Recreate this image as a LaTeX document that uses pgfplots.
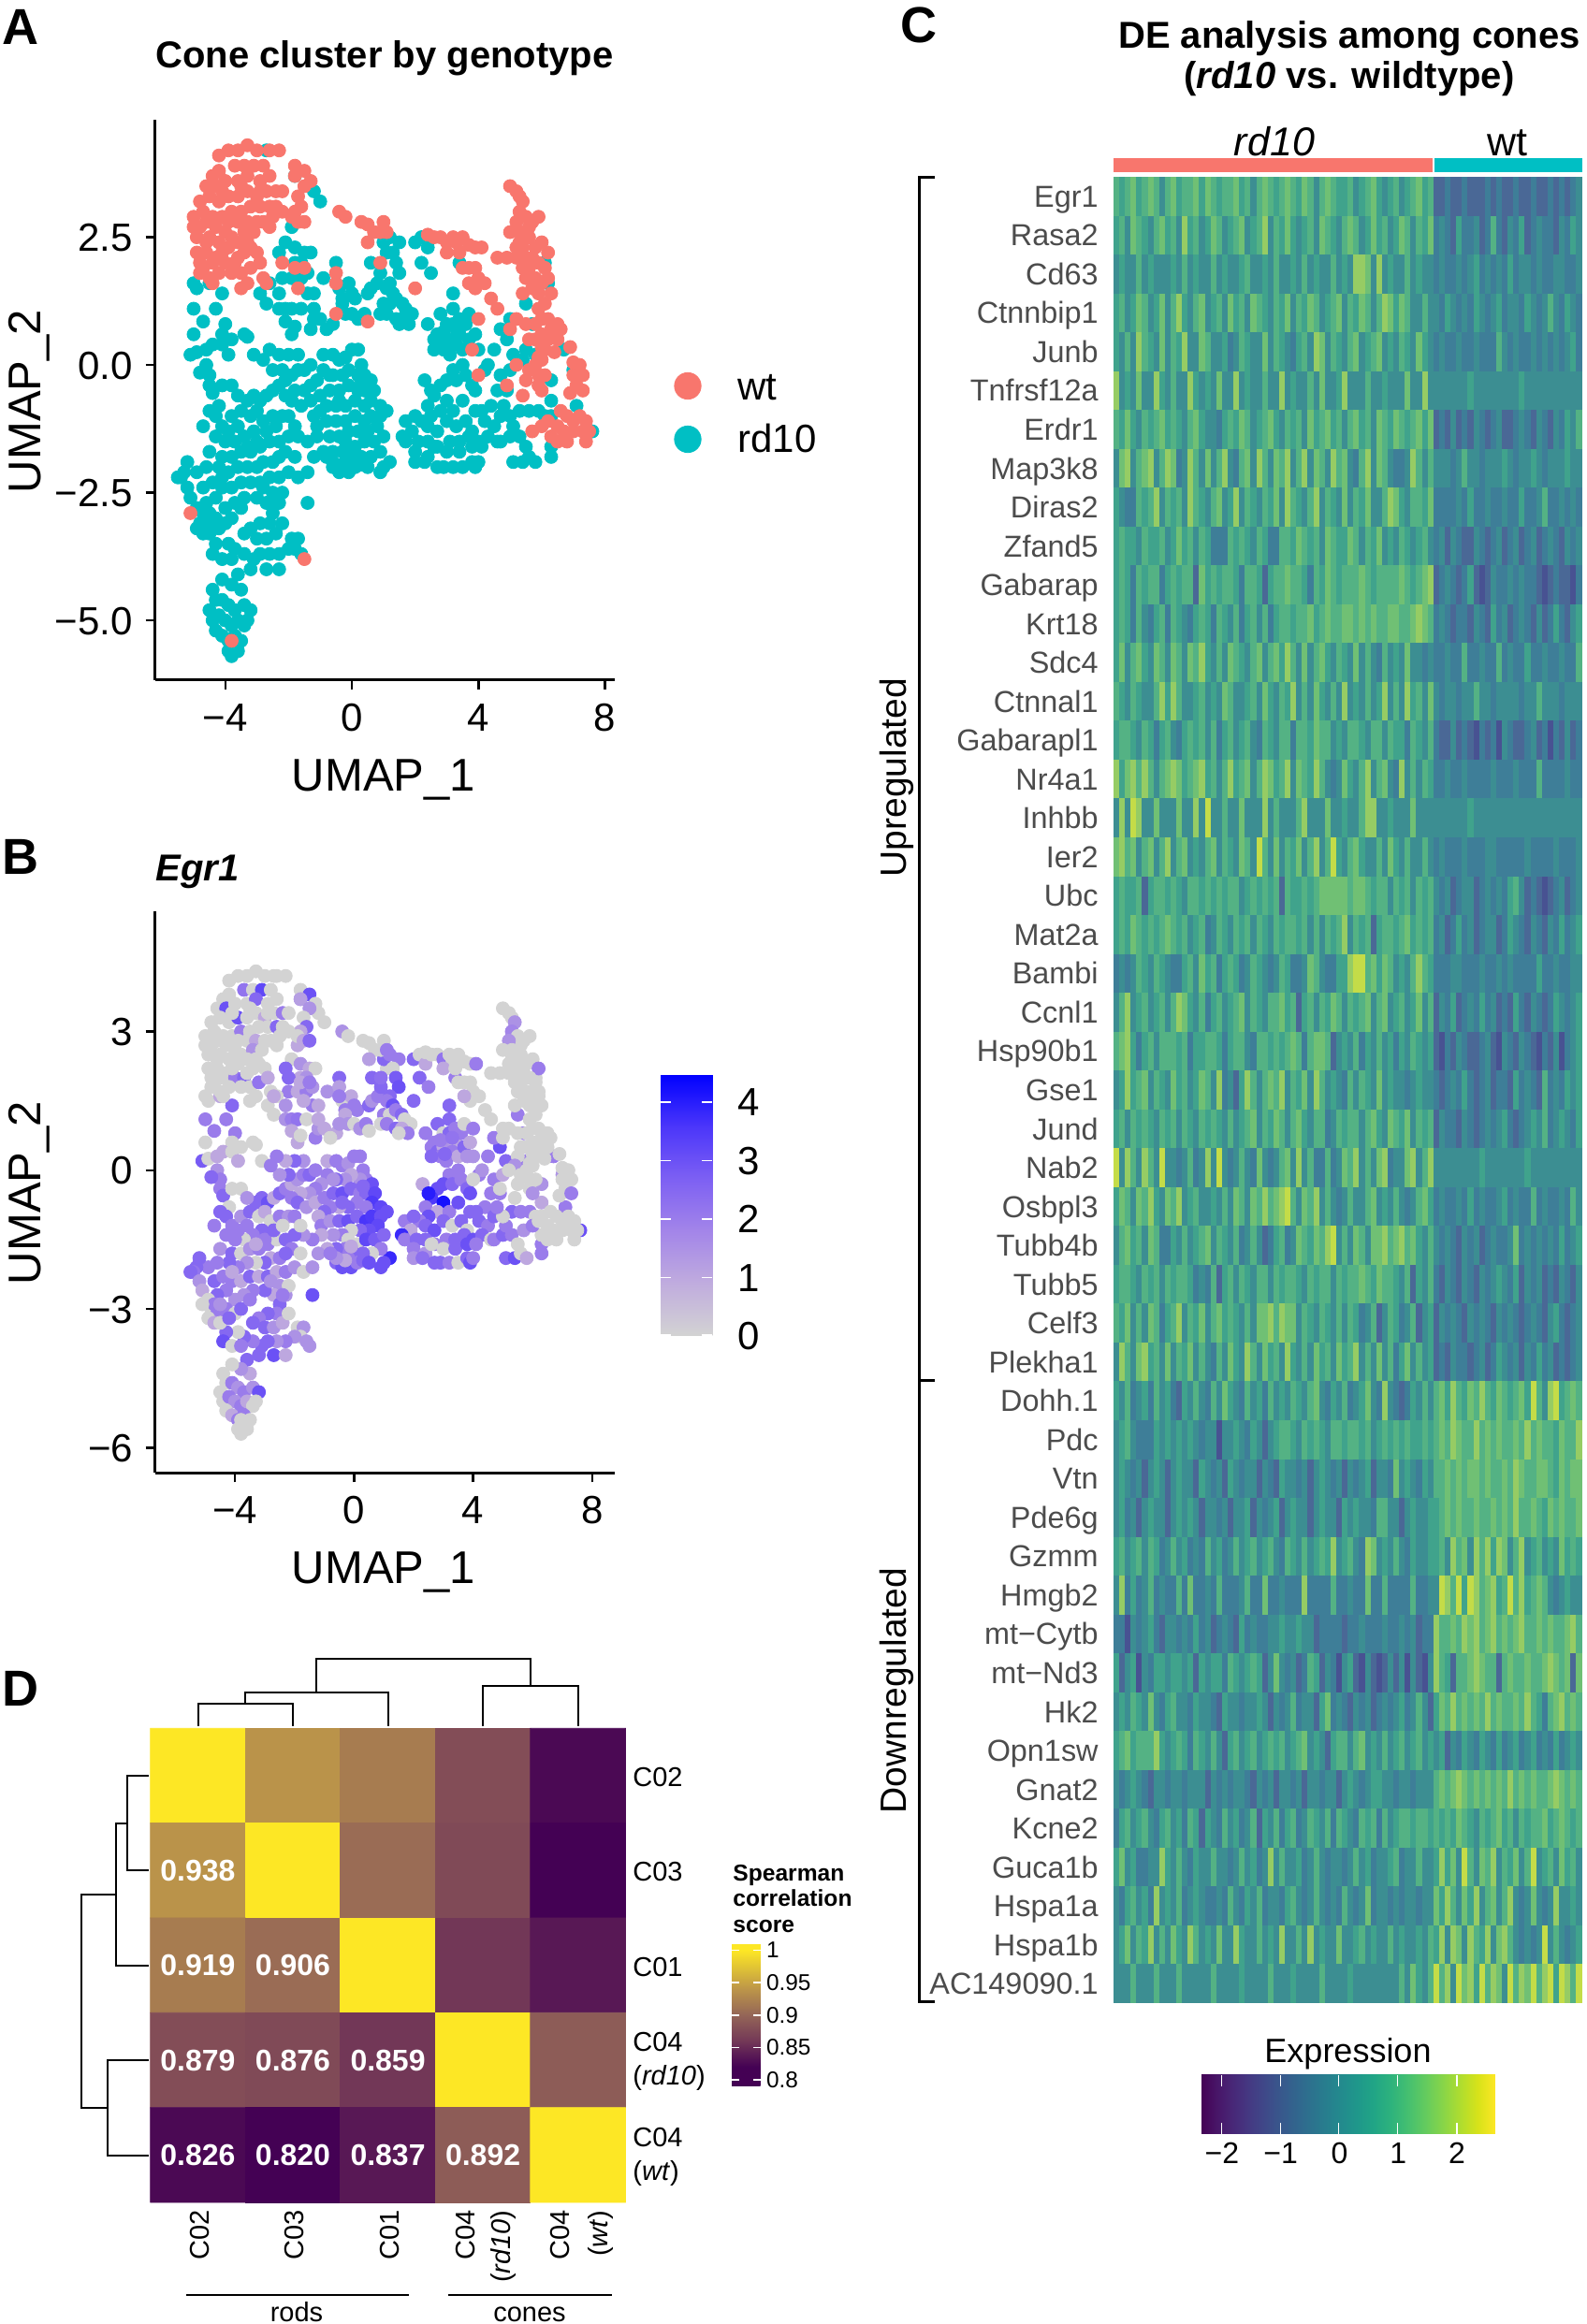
\documentclass[border=0pt]{standalone}
\usepackage{fontspec}
\setmainfont{Liberation Sans}
\usepackage{pgfplots}
\usepackage{pgfplotstable}
\pgfplotsset{compat=1.18}
\newcommand\fs[1]{\fontsize{#1}{#1}\selectfont}
\definecolor{wtc}{HTML}{F8766D}
\definecolor{rdc}{HTML}{00BFC4}
\pgfplotsset{
  colormap={egr}{rgb255(0pt)=(211,211,211); rgb255(1pt)=(192,172,222); rgb255(2pt)=(163,133,233); rgb255(3pt)=(125,96,243); rgb255(4pt)=(75,54,250); rgb255(5pt)=(0,0,255)},
  colormap={corr}{rgb255(0pt)=(68,1,84); rgb255(3pt)=(68,1,84); rgb255(7pt)=(115,56,87); rgb255(11pt)=(148,101,87); rgb255(15pt)=(188,149,73); rgb255(21pt)=(253,231,37); rgb255(22pt)=(253,231,37)},
  colormap={cells}{rgb255(0pt)=(72,82,146); rgb255(1pt)=(74,104,150); rgb255(2pt)=(62,126,152); rgb255(3pt)=(60,142,146); rgb255(4pt)=(64,163,140); rgb255(5pt)=(84,178,132); rgb255(6pt)=(112,192,116); rgb255(7pt)=(150,204,100); rgb255(8pt)=(196,220,72)},
  umap/.style={scale only axis,anchor=south west,axis x line=bottom,axis y line=left,axis line style={-,line width=1.5pt},
    tick style={black,line width=1.25pt},major tick length=5pt,tick align=outside,
    ticklabel style={font=\fs{21},inner sep=0pt},
    xticklabel style={yshift=-7pt,text height=15pt,text depth=0pt},
    yticklabel style={xshift=-6.7pt,text height=15pt,text depth=0pt},clip=false},
  dots/.style={only marks,mark=*,mark size=3.5pt},
  keybar/.style={scale only axis,anchor=south west,hide axis,xmin=0,xmax=1,ymin=0,ymax=1},
  keystyle/.style={at={(parent axis.south west)},anchor=south west,scale only axis,axis line style={draw=none},tick style={draw=none},major tick length=0pt},
}
\pgfdeclareplotmark{cell}{\pgfpathrectangle{\pgfpoint{-1.58pt}{-10.4pt}}{\pgfpoint{3.16pt}{20.8pt}}\pgfusepathqfill}
% UMAP position and Egr1 expression per cell
\pgfplotstableread{
x y e
-4.2 4.1 0
-3.9 4.2 0
-3.6 4.2 0
-3.3 4.3 0
-3 4.2 0
-2.6 4.2 0
-2.3 4.2 0
-3.7 3.9 2.2
-4.2 3.8 0
-4.4 3.7 0
-3.4 3.9 0
-3.1 3.9 3.2
-2.8 3.9 0
-4.6 3.5 0
-4.3 3.5 3
-4 3.6 0
-3.6 3.6 0
-3.3 3.7 2.5
-2.9 3.6 0
-2.6 3.7 0
-4.8 3.2 0
-4.5 3.3 0
-4.2 3.2 0
-3.9 3.3 3
-3.6 3.3 0
-3.3 3.4 0
-3 3.3 1
-2.7 3.4 0
-2.4 3.4 2
-2.2 3.4 0
-5 2.9 0
-4.7 3 0
-4.4 2.9 0
-4.1 2.9 0
-3.8 3 2
-3.5 3 0
-3.2 3.1 0
-2.9 3.1 0
-2.6 3.1 2.5
-2.4 3.1 0
-5 2.7 0
-4.8 2.7 0
-4.6 2.8 0
-4.3 2.7 0
-4 2.6 0
-3.6 2.8 0
-3.3 2.8 1
-3 2.8 0
-2.8 2.8 0
-2.6 2.7 0
-4.9 2.5 0
-4.5 2.5 0
-4.2 2.4 0
-3.8 2.5 0
-3.4 2.6 1.5
-3.1 2.6 0
-4.9 2.2 0
-4.6 2.2 0
-4.3 2.1 0
-3.9 2.3 0
-3.6 2.4 0
-3.2 2.3 0
-4.8 2 0
-4.4 2 0
-4 2 2
-3.7 2 2.5
-3.4 2.2 0
-3 2.2 0
-4.8 1.8 0
-4.5 1.7 0
-4.2 1.8 0
-3.8 1.8 0
-3.5 1.8 0
-3.2 1.9 2.2
-2.9 2 1
-4.4 1.6 0
-3.5 1.5 0
-3.3 1.6 0
-2.8 1.7 0
-2.7 1.6 1
-1.8 3.9 0
-1.7 3.8 0
-1.5 3.8 3
-1.8 3.7 1.2
-1.3 3.6 0
-1.5 3.5 1.5
-1.7 3.3 0
-1.6 3.1 2.5
-1.8 3 1
-1.9 2.9 0
-1.7 2.8 1
-1.5 2.8 2.5
-2.2 2 2.5
-1.8 1.9 1
-1.5 1.9 2
-1.7 1.5 1
-0.4 3 1.5
-0.2 2.9 0
-0.5 1.8 1.2
-0.5 1.6 2
-0.5 1 1.5
0.5 .85 0
0.9 2 2.3
0.3 2.8 0
0.5 2.75 0
0.7 2.6 0
1 2.8 0
0.9 2.6 0
1.1 2.6 2
0.5 2.4 1.2
2.4 2.55 0
2.6 2.5 0
2.8 2.5 0
3 2.4 2.2
3.2 2.5 0
3.3 2.4 0
3.5 2.5 0
3.7 2.35 0
3 2.2 1
3.4 2.2 0
3.9 2.3 0
4.1 2.3 2
3.5 1.9 0
3.7 1.9 0
3.9 1.9 0
4 1.7 0
3.9 1.5 0
4.2 1.6 0
3.7 1.6 1
4.4 1.3 0
4.6 1.1 0
2 1.5 2.5
4 .9 2
3.8 .3 1.5
4 -.2 0
5 3.5 0
5.2 3.4 0
5.3 3.3 0
5.4 3.2 1.5
5.3 3 1.8
5.5 2.9 0
5.6 2.7 0
5.2 2.8 1.5
5 2.6 0
5.3 2.6 0
5.6 2.5 0
5.9 2.9 0
5.7 2.8 0
6 2.4 0
5.8 2.3 0
6.2 2.2 2
5.5 2.1 0
5.2 2.1 0
4.9 2.1 0
4.6 2.1 0
5.6 1.9 0
5.8 1.7 0
6 1.6 0
6.2 1.7 0
6.3 1.4 0
6.1 1.2 0
5.9 1.1 0
6.2 .9 0
5.4 1.4 0
5.2 .9 0
5 .7 0
5.5 .8 0
6.5 .8 0
6.6 .7 0
6 .6 0
5.8 .5 0
5.6 .5 0
6.2 .5 0
6.5 .5 0
6.9 .35 0
6.1 .3 0
7 .05 0
7.2 0 0
7.3 -.2 0
7 -.2 0
7.1 -.4 0
5.8 0 0
6 .1 0
5.6 -.1 0
5.9 -.2 0
6.1 -.2 0
4.9 -.4 0
5.2 0 0
5.5 -.3 0
5.9 -.4 0
5.4 -.6 0
6 -.5 1.5
6.9 -.55 0
7.3 -.5 2
6.6 -.9 0
6.8 -1 0
7 -1.1 0
7.2 -1 0
7.4 -1.1 0
6.5 -1.2 0
6.7 -1.3 0
7 -1.3 0
7.3 -1.3 0
7.5 -1.3 0
6.3 -1.4 0
6.5 -1.5 0
6.8 -1.5 0
7.4 -1.5 0
5.7 -1.3 1.5
6 -1.2 2
6.2 -1.1 0
-5.1 -2.9 0
-1.5 -3.8 1.5
-3.8 -5.4 0
5.5 2.5 0
5.4 2.3 0
5.7 2.1 0
5.9 2 0
5.5 1.7 0
5.7 1.5 0
5.9 1.4 0
5.3 2.4 0
5.4 1.9 0
5.2 2.3 0
6.1 1.9 0
6 .9 0
5.8 .8 0
6.3 .7 0
6 .35 0
6.4 .25 0
5.9 .15 0
-4.1 3.4 0
-3.5 3.5 0
-2.9 3.4 0
-3.9 2.8 0
-3.3 2.4 0
-3.6 2.1 0
-4.1 2.2 0
-4.6 2.4 0
-4.7 1.9 0
-2.5 2.9 0
-2.2 3 0
}\wtpts
\pgfplotstableread{
x y e
-2.7 4.2 0
-1.8 3.7 2
-1.2 3.4 0
-1 3.2 0
-1.9 2.7 1
-2.1 2.4 0
-1.8 2.3 1.5
-1.5 2.2 1
-1.3 2.2 0
-2.3 2.2 2.5
-1.8 2 1
-1.6 2 1.5
-2.2 1.7 2
-1.9 1.7 1
-1.6 1.7 2
-1.4 1.8 1.5
-2.6 1.6 0
-2.3 1.4 1.5
-2.9 1.4 0
-2.7 1.2 0
-2.3 1.1 1.5
-2.1 1.1 2
-1.9 1.1 2.2
-1.6 1.1 0
-2.1 .85 1
-1.9 .6 1
-1.8 .75 0
-1.3 .7 2
-1.2 .9 1.5
-1 .9 1
-1.2 1.1 1
-1.4 1.4 2
-1.2 1.4 1
-.9 1.7 1.5
-.5 2 2.5
-.4 1.5 0
-.3 1.3 2
-.1 1.6 1
0 1.4 2
.1 1.3 2
-.3 1.2 1
-.2 1 1.5
0 1 0
.2 .9 1.5
.4 1 2
-.6 .8 1
-.8 .7 0
.5 1.4 2.5
.6 1.5 1.5
.8 1.6 2
.9 1.8 2.5
.6 2 2.5
1.1 2.2 0
1 2.4 2.5
1.2 2.5 2
1.5 2.4 2
1.3 2.2 0
1.4 2 2.8
1.5 1.8 3
1.2 1.6 2.5
1.1 1.5 2
1.3 1.4 3
1 1.2 2
1.2 1.2 0
1.4 1.3 2
1.6 1.2 2.5
1.7 1.1 0
.9 1 0
1.1 1 2
1.4 .9 2.5
1.9 1 0
1.6 .9 1
1.8 .8 2
1.5 .8 0
2 2.4 2.5
2.2 2.5 0
2.4 2.3 1
2.2 2 2.5
2.5 1.8 2
2.8 1 2.5
3.2 1.1 2.5
2.4 .8 2
2.7 .6 2
3 .8 0
3.2 .8 2.5
3.4 .9 2
2.6 .5 2
2.8 .4 2.5
3 .5 1
3.2 .5 1.5
3.4 .6 1
3.6 .8 2
3.7 1 0
2.9 .3 2
3.1 .2 2
3.3 .4 2
3.5 .3 1
2.6 .3 2.5
3.7 .5 2.5
3.9 .6 1
3.4 2 2
3.2 1.4 2.5
3.5 0 2
3.2 -.1 2
3 -.3 3
2.8 -.4 3
2.6 -.6 3.5
2.4 -.8 2
3.3 -.3 2.5
3.6 -.2 2
4 .3 1.5
4.2 -.1 2
4.5 .3 2
4.3 0 1.5
2.3 -.3 1
3.8 -.4 2.5
3.9 -.5 3
4.6 -.5 2
4.4 -.8 2
4.1 -.9 2.5
2.5 -.5 4
3 -.7 4.2
2.8 -.9 1
2.5 -1 3
3.2 -.9 2
3.5 -.7 3
3.9 -.9 2.5
2.2 -1.1 2
2.4 -1.2 2.5
2.7 -1.3 3
3 -1.1 2.5
3.3 -1.2 0
3.6 -1.1 2.5
3.8 -1.3 0
4.2 -1.1 2.5
4.5 -1.2 2
4.7 -1 2.5
1.7 -1.1 2
1.9 -1.3 1
2 -1 2.5
1.6 -1.4 3.8
1.7 -1.5 2
2.1 -1.5 2.5
2.4 -1.5 2.5
2.7 -1.6 2
3.1 -1.5 2
3.4 -1.5 2.5
3.7 -1.4 2.5
4 -1.5 3
4.3 -1.4 2.5
2 -1.7 2
2.4 -1.8 1.5
2.6 -1.6 0
3 -1.7 0
3.4 -1.7 2.5
3.8 -1.6 3
4.1 -1.6 2
4.6 -1.5 0
2 -1.9 1.5
2.3 -1.9 2.3
2.7 -2 2.5
2.9 -2 2.5
3.2 -2 2
3.5 -2 0
3.8 -1.9 2.5
3.9 -2 3
4 -1.9 2
4.7 -1.5 2
5 -1.4 2.5
5.3 -1.4 2
5.5 -1.6 0
5.1 -1.2 2
5.3 -.9 2.5
5.6 -.9 2
5.9 -.9 2
6.1 -1 0
5 -1 0
4.8 -.8 2
4.9 -.5 2
4.7 -.2 2
5 -.1 1
5.1 .2 2.5
4.9 .5 3
4.7 .7 2
5 .9 0
5.5 1.2 2
5.7 .8 2
5.8 .2 2
5.5 .3 0
5.4 .1 1.5
6.3 -.3 1.5
6.3 -.7 1
6.3 -1 0
6.3 -1.6 2
6.3 -1.8 2
5.1 -1.9 2.5
5.4 -1.9 3
5.6 -1.8 0
5.8 -1.9 1
6.1 2 0
6.2 1.6 0
6.7 .3 2
7 -.1 1.5
7.1 -.8 2
7.4 -1.3 2
7.6 -1.3 3
-5 1.6 0
-4.9 1.5 0
-4.5 1.6 1
-4.1 1.4 2.5
-5 1.1 2
-4.3 1.1 2
-4.7 .85 2
-5 .6 0
-4 .8 2
-4.1 .6 0
-3.8 .5 0
-4.4 .4 1
-3.4 .6 0
-3.3 .55 0
-5.1 .2 2.8
-4.9 .25 0
-4.6 .3 1
-4.1 .4 0
-3.9 .2 1
-3.1 .2 0
-4.6 0 1.5
-4.5 -.2 2
-4.8 -.15 2.5
-4.5 -.4 2
-4.4 -.55 2.5
-4.1 -.4 0
-3.8 -.4 0
-4.2 -.8 0
-3.3 -.7 2.5
-3.1 -.6 2.5
-2.9 -.7 3
-2.7 -.6 1
-2.5 -.5 2.5
-2.3 -.4 2
-2.1 -.3 1
-1.9 -.2 1.5
-2.2 -.1 2.5
-2.5 -.1 1.5
-1.7 -.1 2
-1.5 -.1 2.5
-1.3 0 2
-1.7 .2 1.5
-2 .2 2.5
-2.3 .2 1
-2.6 .3 2
-2.8 .1 2
-.9 .2 1
-.6 .2 2
-.4 .1 2
-.2 .15 1.5
0 .3 2
.2 .3 2
.3 0 2
.4 -.2 2
.2 -.2 1.5
-.1 -.1 1
-.3 -.2 1.5
-.6 -.2 2.5
-.9 -.1 2
-1.1 -.3 1.5
-1.3 -.4 2
-1.5 -.5 1.5
-1.8 -.5 1
-2.1 -.6 2
-1.9 -.7 2.5
-1.6 -.8 1.5
-1.3 -.7 1
-1 -.6 2
-.7 -.5 2.5
-.4 -.5 3
-.1 -.4 2.5
.2 -.5 2
.4 -.5 2.5
.6 -.3 3
.7 -.5 3.2
.6 -.7 3.5
.9 -.8 3.2
.4 -.8 2
.1 -.7 2
-.2 -.8 2.5
-.5 -.8 1
-.8 -.8 2
-1 -.9 2.5
-1.2 -1 1
-1.1 -1.2 2
-.8 -1.1 1.5
-.5 -1.1 2.5
-.2 -1.1 3
.1 -1 2.5
.4 -1.1 3.6
.6 -1 3.5
.9 -1 3
1.1 -.9 3
.8 -1.2 3.2
.5 -1.3 3
.2 -1.3 2.5
-.1 -1.3 0
-.4 -1.4 2
-.7 -1.4 1.5
-1.1 -1.4 1
-1.4 -1.5 2
-1.7 -1.4 1.5
-2 -1.4 2.5
-.2 -1.5 0
.1 -1.6 0
.4 -1.5 3.2
.7 -1.5 2.8
1 -1.4 2.5
1.2 -1.9 3.8
.9 -1.7 2
1 -2 3
.6 -1.8 0
.3 -1.8 2.5
0 -1.8 2.5
-.3 -1.7 2
-.6 -1.7 2.5
-.9 -1.7 1
-1.2 -1.8 1.5
-.6 -2 2.5
-.4 -2.1 3
-.1 -2.1 3
.1 -2 2
-.2 -1.9 2
-.3 -1.95 1
-.6 -1.9 1.5
.9 -2.1 3
-4.5 -.9 2.5
-4.7 -1.2 2
-4.3 -1 2.5
-4.1 -1.2 2
-3.8 -1 1.5
-3.6 -1.2 2
-3.5 -.9 2.5
-3.2 -1 0
-3 -.9 1
-2.8 -1.1 0
-2.5 -1 2
-2.2 -1 1.5
-2 -1 2
-1.8 -1.2 0
-3.1 -1.3 2.5
-3.4 -1.4 2
-3.7 -1.5 0
-4 -1.5 2
-4.3 -1.4 2
-4.5 -1.7 1.5
-4.1 -1.8 2.5
-3.8 -1.8 0
-3.5 -1.7 1.5
-3.2 -1.7 2
-2.9 -1.6 2
-2.6 -1.5 0
-2.3 -1.5 2.5
-2.1 -1.7 2
-1.8 -1.8 0
-2.8 -1.9 1
-2.5 -1.9 2
-2.3 -1.8 2.5
-3 -2 2.5
-3.3 -2 0
-3.6 -2 1.5
-3.9 -2.1 2
-4.2 -2 2.5
-4.6 -2 2
-4.9 -2.1 2
-5.2 -1.9 2.5
-5.3 -2.1 2.5
-5.4 -2.2 2.2
-5.5 -2.2 2.5
-5.2 -2.4 1.5
-5.1 -2.6 1
-4.7 -2.4 2.5
-4.4 -2.3 2
-4.1 -2.4 2
-3.8 -2.4 1
-3.5 -2.3 2.5
-3.2 -2.3 1
-2.9 -2.3 2.5
-2.6 -2.2 1
-2.3 -2.2 2
-2 -2.1 1.5
-1.7 -2.2 0
-1.4 -2.1 1.5
-2.5 -2.5 1.5
-2.7 -2.7 1
-3 -2.6 2.5
-3.4 -2.6 2
-3.7 -2.7 1.5
-4 -2.8 1.5
-4.3 -2.6 2
-4.6 -2.7 2.5
-4.9 -2.8 0
-4.8 -3.1 0
-4.6 -3.1 2
-4.3 -3 2
-4 -3.1 0
-3.8 -3 2.5
-3.5 -2.8 2
-2.5 -2.9 2.5
-2.3 -2.7 1.5
-2.2 -2.5 0
-1.4 -2.7 3
-2.6 -3.1 2
-2.9 -3.1 2.5
-3.2 -3.2 2
-3.4 -3.3 2.5
-3 -3.4 2.5
-2.7 -3.4 1.5
-2.4 -3.3 1
-2.2 -3.1 0
-1.9 -3.4 0
-1.7 -3.4 1.5
-1.8 -3.6 0
-1.6 -3.7 1.5
-2 -3.6 1.5
-2.3 -3.7 2
-2.6 -3.7 1.5
-2.9 -3.7 2.5
-3.1 -3.8 2.5
-3.4 -3.7 2
-3.7 -3.6 2.5
-3.9 -3.5 0
-4.3 -3.5 2.5
-4.4 -3.7 3
-4.1 -3.8 0
-3.8 -3.8 2
-3.6 -4.1 2.5
-3.2 -4 2.5
-3.5 -4.4 1
-3.8 -4.3 1.5
-4.1 -4.2 0
-4.4 -4.4 0
-2.7 -4 3
-2.3 -4 1
-4.5 -4.8 0
-4.3 -4.6 0
-4.1 -4.6 2
-3.9 -4.7 1.5
-3.7 -4.8 2
-3.4 -4.7 1.5
-3.2 -4.8 3
-4.4 -5 0
-4.2 -4.9 2
-4 -5 1.5
-3.8 -5.1 2
-3.6 -5 1
-3.4 -5.1 0
-3.3 -5 0
-4.3 -5.2 0
-4.1 -5.3 1
-3.9 -5.4 2
-3.7 -5.3 2
-3.5 -5.4 0
-3.6 -5.6 0
-3.8 -5.7 0
-3.9 -5.6 0
-4.7 -2.9 2
-4.5 -2.9 1.5
-4.4 -3.2 2
-4.9 -3.2 0
-4.7 -3.3 1
-4.5 -3.3 0
-4.2 -3.2 2.5
-4.1 -2.2 1
-3 -1.5 2
-3.3 -1.6 1
-2.7 -1.3 2.5
-2.4 -1.2 0
-3.6 -.6 1.5
-3.9 -1.3 2
-.7 -.2 1.5
-.4 -.7 2.5
.3 -.35 2.5
-.8 -1.8 2
-.1 -1.65 1
.3 -1.95 2.5
.5 -2 3
2.9 .65 2
3.05 .35 2.5
3.3 .7 2.2
-2.4 -2.7 2
-2.8 -2.4 1.5
}\rdpts
% heatmap: 47 genes by 82 cell groups (56 rd10, 26 wt), colour step 0-8
\pgfplotstableread[header=false]{
5 4 5 6 4 5 6 5 3 5  6 4 5 5 6 4 6 5 4 5  5 6 4 5 3 5 6 5 4 5  6 5 4 6 5 3 5 6 5 4  4 5 3 4 5 6 4 3 4 5  3 4 5 6 4 5  1 1 2 1 1 2 1 1 1 2  1 2 1 1 2 1 1 2 1 1  2 1 2 1 2 3
4 5 3 6 5 4 3 5 6 4  5 3 7 4 5 3 4 6 5 3  4 5 6 3 4 5 7 3 5 4  6 4 3 4 5 3 6 5 4 3  5 6 5 3 4 6 4 5 3 4  6 5 3 5 4 6  2 3 2 1 4 2 2 3 1 2  5 2 1 3 2 4 1 2 3 2  2 1 3 2 4 3
3 4 3 3 5 3 4 3 3 3  4 3 5 3 4 3 3 5 3 4  3 3 4 5 3 3 4 3 5 3  3 4 3 5 3 4 3 3 5 3  4 3 7 7 6 3 7 3 4 3  3 5 3 4 3 3  2 3 2 2 3 2 3 4 2 3  2 3 2 4 2 3 3 2 3 2  2 3 3 2 2 3
4 5 3 4 6 5 3 4 6 3  5 7 4 3 5 6 3 4 5 3  6 4 5 3 6 5 4 3 5 4  6 3 5 4 6 5 3 4 5 6  3 5 4 6 5 3 5 7 6 4  6 5 3 3 5 3  3 2 4 3 2 3 2 4 3 2  3 4 2 3 3 2 4 3 2 3  5 3 2 4 3 2
4 3 5 3 7 5 4 3 6 3  5 4 7 3 3 6 5 3 3 4  2 3 5 4 3 3 6 3 5 4  3 2 4 5 3 7 6 3 5 4  3 5 6 3 4 5 6 3 4 3  5 4 3 6 4 3  2 3 2 2 3 2 2 3 2 2  2 5 3 2 3 2 2 3 2 3  2 3 2 3 4 2
7 3 4 3 6 3 3 7 4 3  5 3 3 7 4 3 4 3 6 3  3 7 3 4 3 3 5 3 3 7  3 4 3 3 5 3 6 3 3 4  7 3 3 3 5 3 3 4 3 3  3 6 3 3 7 3  3 3 3 3 3 3 4 3 3 3  3 3 3 3 3 4 3 3 3 3  3 3 3 3 3 3
5 4 6 4 3 5 4 5 6 4  5 4 3 5 6 4 3 3 2 4  5 4 6 5 3 4 5 6 4 3  5 4 5 3 6 4 5 6 4 5  3 5 6 4 5 3 6 5 4 6  5 4 5 6 4 6  1 2 1 3 1 2 1 3 2 1  2 3 1 1 2 3 2 1 3 2  1 3 2 4 3 5
3 6 7 3 5 6 7 3 5 7  6 2 3 7 5 3 6 3 5 7  3 2 5 6 3 7 5 3 6 5  7 3 5 7 3 6 5 3 7 5  6 3 2 5 7 3 6 5 3 2  2 3 7 5 3 5  3 3 3 2 3 5 3 3 2 3  3 3 4 3 2 3 3 4 3 2  3 3 3 4 3 3
4 3 2 2 5 4 5 7 3 5  4 5 3 7 5 4 3 5 6 3  4 7 3 5 4 3 5 4 6 3  7 5 4 3 5 7 3 5 4 3  6 3 5 4 6 3 3 5 7 6  4 3 5 5 4 6  2 2 2 2 3 2 4 2 2 3  2 2 3 2 2 4 2 2 3 5  2 2 3 2 3 2
4 5 4 4 3 5 4 4 5 3  4 6 4 5 3 5 4 2 2 2  5 4 5 4 3 5 4 2 2 5  5 4 6 5 4 5 3 6 5 4  4 6 5 3 5 4 6 3 4 3  5 4 3 4 5 3  2 3 1 3 2 1 1 3 2 1  2 3 1 2 3 1 2 3 1 2  3 2 1 3 2 3
4 5 4 2 5 4 5 5 2 4  5 4 5 5 1 6 4 5 4 5  5 4 2 5 5 4 1 4 5 5  6 5 5 4 2 5 4 6 5 4  5 5 5 6 5 4 5 5 5 5  6 5 4 5 6 7  1 2 3 2 1 2 4 1 0 1  3 2 2 3 2 3 2 2 1 0  1 2 1 1 0 2
4 5 4 2 5 3 2 4 5 2  5 4 3 2 4 5 4 2 5 4  3 5 2 4 5 3 5 2 4 5  5 4 5 5 6 4 5 6 5 5  6 6 5 6 5 6 5 5 6 6  5 5 6 7 6 5  2 3 2 1 2 2 1 3 2 1  4 2 3 1 2 3 2 1 3 1  2 4 2 1 3 4
4 6 3 5 6 4 3 6 5 3  6 5 3 6 5 7 4 3 5 3  6 5 4 3 5 6 3 5 6 4  7 5 3 6 3 5 6 4 3 5  4 3 6 3 5 3 2 5 3 4  3 6 3 3 2 3  2 2 3 2 2 5 2 2 3 2  2 5 2 3 2 2 4 2 2 3  2 2 3 2 2 5
5 4 3 5 4 3 3 5 7 4  7 5 3 3 4 5 3 4 3 6  5 3 3 4 5 3 6 4 3 5  4 7 3 5 3 6 4 3 5 3  7 3 4 3 5 3 4 7 3 5  3 7 4 5 3 6  3 2 3 3 2 3 3 5 3 3  2 3 3 3 3 2 3 3 5 3  3 3 2 3 3 3
4 5 5 4 3 5 4 2 4 5  3 2 4 5 4 5 3 5 2 4  5 3 4 5 3 2 5 4 3 5  5 2 5 5 4 6 5 5 3 4  3 5 5 4 3 5 5 3 5 4  4 2 5 4 3 5  2 1 1 3 1 2 1 0 2 1  2 0 3 2 1 1 2 3 1 2  0 2 1 3 1 2
7 4 6 7 5 7 5 3 5 6  7 6 4 5 6 7 4 5 3 5  7 4 5 6 3 5 7 6 4 5  7 3 6 5 4 7 5 3 2 3  6 4 3 5 7 3 5 6 3 2  7 3 5 3 5 4  2 2 3 2 2 3 2 2 2 2  3 2 2 2 3 2 2 2 5 2  2 2 2 3 2 2
3 7 3 8 7 3 3 6 3 3  3 6 3 3 7 3 8 3 3 5  3 3 6 3 3 3 7 3 5 3  3 3 5 7 3 3 3 6 3 3  4 3 3 5 7 7 3 3 4 3  3 3 6 3 3 3  3 3 3 3 3 3 4 3 3 3  3 3 3 3 3 3 3 3 3 3  3 3 3 3 3 3
6 7 5 6 3 5 6 3 5 7  3 5 6 3 4 3 5 6 3 5  4 3 6 5 3 8 5 3 6 3  5 4 6 3 5 7 3 5 8 4  3 5 6 4 3 3 5 3 6 4  3 5 3 3 5 3  2 3 2 2 2 3 2 2 2 3  3 2 2 2 2 2 3 2 2 2  2 3 2 2 2 3
4 5 4 4 5 1 4 5 5 4  5 4 3 5 5 4 5 4 5 4  5 5 3 4 5 4 5 4 5 1  5 4 4 5 4 5 6 6 6 6  6 5 6 6 5 4 5 5 3 5  4 5 3 5 4 5  3 2 3 1 2 3 3 1 2 3  2 3 2 4 5 3 1 2 1 0  1 2 3 1 2 3
4 5 4 6 5 4 5 4 5 6  5 4 5 3 4 5 2 3 5 4  3 5 4 5 3 5 4 3 5 4  5 5 4 5 3 5 3 5 4 5  7 3 5 4 5 1 4 5 5 4  5 6 4 5 4 5  2 3 1 2 4 2 3 1 2 3  3 1 2 4 3 2 1 3 2 1  3 2 4 2 3 4
2 3 2 3 5 4 3 5 4 3  2 2 4 5 3 6 4 5 2 4  5 4 2 3 5 4 3 2 3 5  4 2 2 3 6 5 3 2 2 4  4 7 8 8 5 6 4 6 5 3  4 3 5 7 5 4  2 2 2 3 3 2 2 2 3 2  2 3 2 3 2 2 2 2 4 2  2 3 2 2 3 3
3 5 7 3 4 5 3 4 5 3  5 7 6 4 3 5 2 4 5 3  4 5 6 3 5 4 3 5 5 6  4 5 1 4 5 3 5 4 6 5  3 5 4 5 6 3 5 6 3 4  5 3 4 6 3 5  1 3 2 4 1 2 3 2 4 2  3 1 2 1 4 2 1 3 2 1  2 4 3 2 3 4
5 6 7 4 2 4 5 3 5 5  5 4 5 2 4 4 5 5 4 2  4 5 5 3 2 5 5 4 5 4  5 6 5 2 5 6 6 5 1 3  4 3 5 2 4 3 5 3 4 2  4 3 5 4 3 4  1 0 2 1 3 2 1 1 2 3  1 0 3 2 1 3 2 1 0 2  1 3 0 2 3 4
3 4 7 4 5 6 3 5 4 3  6 4 5 3 4 6 5 3 7 2  3 1 4 7 5 3 5 6 5 7  3 5 4 6 3 7 5 3 4 3  2 5 3 5 4 3 6 3 4 3  3 2 3 4 3 3  2 1 2 3 2 4 2 1 2 3  1 2 2 1 4 2 3 2 1 5  2 3 2 4 3 4
4 5 3 5 4 5 4 3 5 4  5 3 5 4 3 5 4 5 4 3  5 3 4 5 6 3 5 4 6 5  3 5 6 4 3 5 5 2 3 5  4 5 5 3 5 6 4 3 6 5  4 6 3 5 4 5  1 3 2 2 1 3 2 1 2 3  2 3 4 2 1 2 3 4 3 5  2 3 4 3 2 4
8 3 7 5 3 7 5 3 8 3  3 2 3 5 2 3 7 3 8 3  2 3 5 3 2 6 3 2 3 5  6 3 7 3 5 2 2 5 2 3  6 5 7 3 5 3 6 7 2 3  3 6 7 3 5 7  3 3 3 3 3 3 3 3 4 3  3 3 3 3 3 3 4 3 3 3  3 3 3 3 3 3
4 6 5 3 6 5 7 4 3 6  5 7 3 4 5 3 3 4 3 5  3 6 5 3 6 5 7 5 6 7  8 5 3 6 5 7 3 5 3 2  3 5 3 3 5 6 3 4 3 5  3 2 3 5 6 4  2 3 2 2 3 2 4 2 3 2  2 3 4 2 3 2 2 5 2 3  2 2 3 2 5 3
3 5 6 4 5 3 6 5 2 2  4 3 5 3 4 5 6 3 5 4  3 5 2 3 5 3 1 2 4 5  2 3 6 5 4 6 5 7 8 3  5 3 6 5 3 6 6 7 5 6  7 5 6 4 3 5  3 2 3 2 1 3 2 3 1 2  3 2 2 3 6 2 3 2 3 2  3 2 4 2 3 4
4 5 5 4 3 5 4 5 3 5  4 5 5 4 2 3 2 5 1 4  5 3 5 4 3 5 5 3 5 4  5 5 4 3 5 4 5 5 3 5  4 5 5 6 5 4 6 5 5 4  3 5 1 4 3 5  2 1 3 2 1 3 2 1 3 2  3 4 3 2 4 1 3 2 3 1  2 1 3 2 1 3
5 4 6 3 5 3 6 5 2 4  5 7 3 5 4 6 3 5 6 4  5 4 3 5 3 6 6 7 5 7  6 6 3 5 4 3 5 4 3 5  3 5 4 2 3 5 1 3 5 4  2 3 5 1 3 4  1 3 2 3 2 1 3 2 3 2  1 3 2 3 2 1 2 3 2 1  3 4 2 1 2 3
3 7 5 3 6 7 4 5 3 6  3 5 4 6 3 5 3 2 5 3  6 4 3 7 5 3 6 4 5 3  7 4 3 5 3 6 4 5 3 6  4 5 7 3 5 3 6 3 5 2  4 6 3 5 3 4  1 2 1 3 2 2 1 2 3 1  2 4 3 2 3 1 3 2 4 2  3 1 2 1 2 3
4 3 5 2 3 4 2 5 3 4  2 1 4 3 5 3 2 5 3 6  4 3 2 5 3 4 2 5 3 4  3 5 4 3 5 6 3 2 4 3  5 2 3 4 6 3 2 7 3 2  1 2 4 3 5 3  5 6 4 7 5 4 6 5 7 5  4 6 5 4 5 6 4 8 5 3  7 8 4 5 6 5
3 4 5 3 2 2 2 4 3 4  3 4 3 4 3 2 3 3 0 3  3 4 3 2 4 3 1 3 4 5  5 4 3 5 4 5 4 3 5 5  4 5 5 4 5 3 4 5 4 5  4 5 4 4 5 4  5 6 5 7 6 5 5 7 5 6  5 6 5 5 6 5 7 5 6 5  5 4 6 5 5 7
3 4 3 2 3 1 3 4 3 1  3 4 3 3 1 4 3 2 3 1  4 3 2 3 3 1 3 2 1 4  3 3 2 3 1 3 4 3 2 3  1 3 2 3 4 1 3 3 2 6  3 4 3 2 4 3  5 5 6 5 6 5 6 6 5 6  5 5 6 5 7 6 5 5 6 6  5 4 6 5 6 6
3 4 2 3 1 3 4 3 3 1  3 4 3 4 3 1 3 3 2 3  1 3 3 4 1 3 2 3 4 1  3 4 3 3 1 3 4 3 3 1  4 3 4 3 3 2 5 5 3 3  1 3 4 3 3 4  4 5 6 5 6 5 5 6 5 5  6 5 6 5 7 5 5 6 5 4  6 5 6 5 5 6
4 5 3 4 5 3 5 4 2 3  5 3 4 2 3 2 5 3 4 2  3 5 3 4 5 3 4 5 3 2  5 4 3 5 3 4 5 4 7 3  4 5 3 2 7 6 3 4 3 5  3 2 4 3 3 4  4 5 3 7 5 6 3 7 5 7  4 7 6 3 5 7 3 4 5 3  4 3 6 4 5 4
3 7 2 4 2 3 5 2 3 2  2 5 2 6 2 2 3 2 5 2  2 2 3 5 2 2 6 2 2 3  2 2 2 7 2 2 2 2 5 2  2 3 2 2 6 2 2 5 2 2  2 2 5 2 2 3  3 8 7 5 8 4 8 7 5 6  7 4 5 8 5 7 4 5 6 5  3 2 3 4 3 3
2 2 0 3 2 3 4 2 1 3  3 2 3 2 4 2 3 1 2 3  2 1 4 2 3 2 2 3 3 4  3 3 4 3 3 1 2 2 2 2  1 2 2 3 2 2 2 3 2 2  3 2 3 1 2 2  7 5 5 6 5 7 6 7 5 6  7 5 6 5 6 7 5 5 6 5  6 5 5 6 7 5
4 1 3 4 0 3 2 4 4 3  4 4 3 4 1 4 3 4 4 2  5 4 3 4 5 4 1 3 6 3  2 3 1 2 5 4 1 3 2 0  3 4 1 0 3 1 0 1 3 1  3 0 3 1 0 3  7 5 4 1 5 5 6 7 6 5  5 1 5 6 5 5 6 5 5 6  7 6 5 6 1 6
3 4 3 5 4 3 6 3 2 4  5 3 3 2 4 3 3 2 1 4  3 3 2 3 3 4 3 1 3 2  3 5 2 3 3 1 4 6 2 3  2 1 3 2 3 1 2 3 2 3  4 2 3 5 3 1  4 6 5 7 5 6 5 6 5 7  5 6 5 5 6 5 7 5 4 2  5 6 7 5 6 5
4 5 6 4 5 5 5 7 4 3  4 5 4 2 5 4 3 5 3 1  4 5 3 4 5 3 4 5 4 5  3 4 5 6 3 4 3 1 4 5  5 3 5 6 3 4 3 5 3 4  5 3 4 5 3 4  3 4 1 3 2 4 3 2 4 3  2 4 2 3 4 2 3 4 2 3  2 4 2 3 4 3
3 2 3 4 3 2 1 3 3 2  3 3 2 3 3 3 1 3 2 3  2 3 3 2 1 3 2 3 1 3  3 2 3 1 3 3 2 3 3 1  3 4 3 2 3 4 4 3 3 2  3 3 2 3 3 3  5 6 5 6 7 6 5 6 5 6  5 6 5 7 5 6 5 6 5 5  6 7 6 5 6 5
2 4 5 3 4 5 3 2 4 5  3 4 2 5 4 1 4 3 2 5  3 4 2 3 5 1 4 3 5 2  4 5 2 3 5 4 3 5 2 5  4 3 2 5 4 5 2 5 3 4  5 5 4 5 5 4  5 4 5 4 6 5 4 3 5 4  5 6 4 5 3 5 4 5 5 6  4 5 6 5 4 5
4 6 3 4 2 2 3 3 7 4  3 5 3 2 4 3 3 5 3 3  2 3 5 3 4 2 3 7 3 5  3 3 4 2 3 5 3 2 3 3  2 3 5 3 4 2 3 3 4 5  2 3 3 5 3 3  4 7 4 6 3 8 5 3 6 5  7 3 5 4 6 3 5 8 3 4  5 3 6 4 5 3
3 2 4 5 3 4 2 7 3 4  3 5 2 3 4 3 2 2 3 2  5 3 2 4 3 5 2 3 3 2  4 5 3 2 3 5 3 2 3 2  5 3 2 3 6 2 3 3 2 3  2 3 3 2 3 3  6 4 7 5 3 6 4 7 3 5  6 3 5 7 3 2 3 6 3 2  3 7 3 3 4 3
3 4 6 3 5 4 7 3 5 3  6 4 3 7 5 3 4 3 6 3  3 7 4 3 3 5 3 4 3 7  3 3 5 3 7 3 4 3 3 6  3 3 4 5 3 4 3 3 5 3  4 3 3 4 3 5  4 7 3 7 6 3 7 5 4 7  3 6 7 5 3 2 3 2 3 8  3 5 3 2 3 4
3 3 3 5 3 3 3 5 3 3  3 5 3 3 3 3 3 5 3 3  3 3 4 3 3 3 3 5 3 3  3 4 3 3 3 3 5 3 3 3  3 4 3 3 3 3 3 3 3 3  5 3 6 4 3 5  8 5 7 3 8 6 7 4 8 5  7 6 3 8 5 7 6 8 5 7  8 4 8 7 5 8
}\heat
\pgfplotstableread{
x y c
0 0 1
1 0 .938
2 0 .919
3 0 .879
4 0 .826
0 1 .938
1 1 1
2 1 .906
3 1 .876
4 1 .820
0 2 .919
1 2 .906
2 2 1
3 2 .859
4 2 .837
0 3 .879
1 3 .876
2 3 .859
3 3 1
4 3 .892
0 4 .826
1 4 .820
2 4 .837
3 4 .892
4 4 1
}\corr
\pgfplotstableread{
x y c
0 1 0.938
0 2 0.919
1 2 0.906
0 3 0.879
1 3 0.876
2 3 0.859
0 4 0.826
1 4 0.820
2 4 0.837
3 4 0.892
}\corrtxt
\begin{document}
\begin{tikzpicture}
\useasboundingbox (0,0) rectangle (848pt,1242pt);
% A
\begin{axis}[umap,at={(82.85pt,878.5pt)},width=245.65pt,height=299.5pt,
  xmin=-6.22,xmax=8.31,ymin=-6.17,ymax=4.8,
  xtick={-4,0,4,8},xticklabels={−4,0,4,8},
  ytick={-5,-2.5,0,2.5},yticklabels={−5.0,−2.5,0.0,2.5}]
\addplot[dots,mark options={draw=rdc,fill=rdc}] table[x=x,y=y] {\rdpts};
\addplot[dots,mark options={draw=wtc,fill=wtc}] table[x=x,y=y] {\wtpts};
\end{axis}
% B
\begin{axis}[umap,at={(82.85pt,454.75pt)},width=245.65pt,height=300.25pt,
  xmin=-6.69,xmax=8.76,ymin=-6.55,ymax=5.6,
  xtick={-4,0,4,8},xticklabels={−4,0,4,8},
  ytick={-6,-3,0,3},yticklabels={−6,−3,0,3},
  colormap name=egr,point meta min=0,point meta max=4.48]
\addplot[scatter,dots,scatter/use mapped color={draw=mapped color,fill=mapped color},point meta=explicit] table[x=x,y=y,meta=e] {\rdpts};
\addplot[scatter,dots,scatter/use mapped color={draw=mapped color,fill=mapped color},point meta=explicit] table[x=x,y=y,meta=e] {\wtpts};
\end{axis}
\begin{axis}[keybar,at={(353pt,528.25pt)},width=27.7pt,height=139.75pt,
  colormap name=egr,point meta min=0,point meta max=4.48,colorbar,colorbar shift/.style={},colorbar/width=27.7pt,
  colorbar style={keystyle,height=139.75pt,ytick={0,1,2,3,4},yticklabels={0,1,2,3,4},yticklabel pos=right,
    yticklabel style={font=\fs{21},inner sep=0pt,xshift=13.5pt,text height=15pt,text depth=0pt}}]
\addplot[draw=none] coordinates {(0,0)};
\end{axis}
% C heatmap
\begin{axis}[scale only axis,at={(595pt,171.5pt)},anchor=south west,width=250.3pt,height=976pt,
  xmin=-.5,xmax=81.5,ymin=-.5,ymax=46.5,y dir=reverse,clip=false,
  axis line style={draw=none},tick style={draw=none},xtick=\empty,
  ytick={0,...,46},
  yticklabels={Egr1,Rasa2,Cd63,Ctnnbip1,Junb,Tnfrsf12a,Erdr1,Map3k8,Diras2,Zfand5,Gabarap,Krt18,Sdc4,Ctnnal1,Gabarapl1,Nr4a1,Inhbb,Ier2,Ubc,Mat2a,Bambi,Ccnl1,Hsp90b1,Gse1,Jund,Nab2,Osbpl3,Tubb4b,Tubb5,Celf3,Plekha1,Dohh.1,Pdc,Vtn,Pde6g,Gzmm,Hmgb2,mt−Cytb,mt−Nd3,Hk2,Opn1sw,Gnat2,Kcne2,Guca1b,Hspa1a,Hspa1b,AC149090.1},
  yticklabel style={font=\fs{16.2},text=black!70,inner sep=0pt,xshift=-8pt,text height=11.5pt,text depth=0pt},
  colormap name=cells,point meta min=0,point meta max=8]
\pgfplotsinvokeforeach{0,...,81}{
  \addplot[scatter,only marks,mark=cell,scatter/use mapped color={fill=mapped color},point meta=explicit]
    table[x expr=#1,y expr=\coordindex,meta index=#1] {\heat};
}
\end{axis}
\begin{axis}[keybar,at={(641.6pt,101.5pt)},width=157.3pt,height=31.5pt,
  colormap name=viridis,point meta min=-2.36,point meta max=2.65,colorbar horizontal,colorbar shift/.style={},colorbar/width=31.5pt,
  colorbar style={keystyle,width=157.3pt,xtick={-2,-1,0,1,2},xticklabels={−2,−1,0,1,2},xticklabel pos=bottom,
  xticklabel style={font=\fs{16},inner sep=0pt,yshift=-4.5pt}}]
\addplot[draw=none] coordinates {(0,0)};
\end{axis}
% D matrix
\begin{axis}[scale only axis,at={(80.35pt,65pt)},anchor=south west,width=253.85pt,height=253.35pt,
  xmin=-.5,xmax=4.5,ymin=-.5,ymax=4.5,y dir=reverse,hide axis,clip=false,
  colormap name=corr,point meta min=.79,point meta max=1.0101]
\addplot[matrix plot*,mesh/cols=5,point meta=explicit] table[x=x,y=y,meta=c] {\corr};
\addplot[draw=none,mark=none,point meta=explicit symbolic,nodes near coords,
  nodes near coords align={anchor=center},
  every node near coord/.append style={font=\fs{16}\bfseries,text=white,anchor=center,inner sep=0pt}] table[x=x,y=y,meta=c] {\corrtxt};
\end{axis}
\begin{axis}[keybar,at={(391pt,127pt)},width=15.3pt,height=76.2pt,
  colormap name=corr,point meta min=.79,point meta max=1.0101,colorbar,colorbar shift/.style={},colorbar/width=15.3pt,
  colorbar style={keystyle,height=76.2pt,ytick={.8,.85,.9,.95,1},yticklabels={0.8,0.85,0.9,0.95,1},yticklabel pos=right,
  yticklabel style={font=\fs{12.2},inner sep=0pt,xshift=3pt}}]
\addplot[draw=none] coordinates {(0,0)};
\end{axis}
% overlay in reference pixels: text, brackets, dendrograms, legend, key ticks
\begin{axis}[scale only axis,at={(0pt,0pt)},anchor=south west,width=848pt,height=1242pt,
  xmin=0,xmax=1696,ymin=0,ymax=2484,y dir=reverse,hide axis,clip=false,unbounded coords=jump]
\addplot[only marks,mark=*,mark size=7.1pt,mark options={draw=wtc,fill=wtc}] coordinates {(735,412.5)};
\addplot[only marks,mark=*,mark size=7.1pt,mark options={draw=rdc,fill=rdc}] coordinates {(735,469.5)};
% key ticks
\addplot[white,line width=.7pt] coordinates {(706,1178)(717,1178)(0,nan)(750,1178)(761.4,1178)(0,nan)(706,1240.4)(717,1240.4)(0,nan)(750,1240.4)(761.4,1240.4)(0,nan)(706,1303)(717,1303)(0,nan)(750,1303)(761.4,1303)(0,nan)(706,1365.5)(717,1365.5)(0,nan)(750,1365.5)(761.4,1365.5)(0,nan)(706,1427)(717,1427)(0,nan)(750,1427)(761.4,1427)};
\addplot[white,line width=.7pt] coordinates {(1305.7,2218)(1305.7,2230)(0,nan)(1305.7,2269)(1305.7,2281)(0,nan)(1368.2,2218)(1368.2,2230)(0,nan)(1368.2,2269)(1368.2,2281)(0,nan)(1430.7,2218)(1430.7,2230)(0,nan)(1430.7,2269)(1430.7,2281)(0,nan)(1493.7,2218)(1493.7,2230)(0,nan)(1493.7,2269)(1493.7,2281)(0,nan)(1556.8,2218)(1556.8,2230)(0,nan)(1556.8,2269)(1556.8,2281)};
\addplot[white,line width=.8pt] coordinates {(782,2084.6)(790,2084.6)(0,nan)(805,2084.6)(812.6,2084.6)(0,nan)(782,2119)(790,2119)(0,nan)(805,2119)(812.6,2119)(0,nan)(782,2153.8)(790,2153.8)(0,nan)(805,2153.8)(812.6,2153.8)(0,nan)(782,2188.4)(790,2188.4)(0,nan)(805,2188.4)(812.6,2188.4)(0,nan)(782,2223)(790,2223)(0,nan)(805,2223)(812.6,2223)};
% annotation bars
\addplot[wtc,line width=7.5pt] coordinates {(1190,176.5)(1531,176.5)};
\addplot[rdc,line width=7.5pt] coordinates {(1533,176.5)(1690.6,176.5)};
% brackets C
\addplot[black,line width=1.5pt] coordinates {(999,189)(982,189)(982,1475)(999,1475)};
\addplot[black,line width=1.5pt] coordinates {(999,1475)(982,1475)(982,2139)(999,2139)};
% dendrogram top
\addplot[black,line width=1pt] coordinates {(211.5,1845)(211.5,1821.4)(313,1821.4)(313,1845)};
\addplot[black,line width=1pt] coordinates {(262.2,1821.4)(262.2,1809.4)(414.5,1809.4)(414.5,1845)};
\addplot[black,line width=1pt] coordinates {(516,1845)(516,1801.5)(617.5,1801.5)(617.5,1845)};
\addplot[black,line width=1pt] coordinates {(338,1809.4)(338,1773)(567,1773)(567,1801.5)};
% dendrogram left
\addplot[black,line width=1pt] coordinates {(159,1898)(135.8,1898)(135.8,1999.4)(159,1999.4)};
\addplot[black,line width=1pt] coordinates {(135.8,1948.7)(124,1948.7)(124,2100.8)(159,2100.8)};
\addplot[black,line width=1pt] coordinates {(159,2202)(115,2202)(115,2303.6)(159,2303.6)};
\addplot[black,line width=1pt] coordinates {(124,2024.7)(87,2024.7)(87,2252.8)(115,2252.8)};
% rods/cones lines
\addplot[black,line width=1pt] coordinates {(199,2452.5)(436.5,2452.5)};
\addplot[black,line width=1pt] coordinates {(479,2452.5)(654,2452.5)};
\tikzset{every node/.append style={inner sep=0pt}}
\node[anchor=base west,font=\fs{27}\bfseries] at (axis cs:2,47) {A};
\node[anchor=base west,font=\fs{27}\bfseries] at (axis cs:2,934) {B};
\node[anchor=base,font=\fs{27}\bfseries] at (axis cs:982,46) {C};
\node[anchor=base west,font=\fs{27}\bfseries] at (axis cs:2,1823) {D};
\node[anchor=base west,font=\fs{20}\bfseries] at (axis cs:166,72) {Cone cluster by genotype};
\node[anchor=base west,font=\fs{20}\bfseries\itshape] at (axis cs:166,941) {Egr1};
\node[anchor=base,font=\fs{24.5}] at (axis cs:410,845) {UMAP\_1};
\node[anchor=base,font=\fs{24.5}] at (axis cs:410,1692) {UMAP\_1};
\node[anchor=base,rotate=90,font=\fs{24.5}] at (axis cs:43,429) {UMAP\_2};
\node[anchor=base,rotate=90,font=\fs{24.5}] at (axis cs:43,1275) {UMAP\_2};
\node[anchor=base west,font=\fs{21}] at (axis cs:788,427) {wt};
\node[anchor=base west,font=\fs{21}] at (axis cs:788,483) {rd10};
\node[anchor=base,font=\fs{20}\bfseries] at (axis cs:1442,51) {DE analysis among cones};
\node[anchor=base,font=\fs{20}\bfseries] at (axis cs:1442,94) {(\textit{rd10} vs. wildtype)};
\node[anchor=base,font=\fs{21.5}\itshape] at (axis cs:1362,166) {rd10};
\node[anchor=base,font=\fs{21.5}] at (axis cs:1611,166) {wt};
\node[anchor=base,rotate=90,font=\fs{19.5}] at (axis cs:968,831) {Upregulated};
\node[anchor=base,rotate=90,font=\fs{19.5}] at (axis cs:968,1807) {Downregulated};
\node[anchor=base,font=\fs{18}] at (axis cs:1440.5,2204) {Expression};
\node[anchor=base west,font=\fs{14.5}] at (axis cs:676,1909) {C02};
\node[anchor=base west,font=\fs{14.5}] at (axis cs:676,2010) {C03};
\node[anchor=base west,font=\fs{14.5}] at (axis cs:676,2112) {C01};
\node[anchor=base west,font=\fs{14.5}] at (axis cs:676,2192) {C04};
\node[anchor=base west,font=\fs{14.5}] at (axis cs:676,2228) {(\textit{rd10})};
\node[anchor=base west,font=\fs{14.5}] at (axis cs:676,2294) {C04};
\node[anchor=base west,font=\fs{14.5}] at (axis cs:676,2330) {(\textit{wt})};
\node[anchor=base east,rotate=90,font=\fs{14.5}] at (axis cs:223,2362) {C02};
\node[anchor=base east,rotate=90,font=\fs{14.5}] at (axis cs:324,2362) {C03};
\node[anchor=base east,rotate=90,font=\fs{14.5}] at (axis cs:426,2362) {C01};
\node[anchor=base east,rotate=90,font=\fs{14.5}] at (axis cs:507,2362) {C04};
\node[anchor=base east,rotate=90,font=\fs{14.5}] at (axis cs:545,2362) {(\textit{rd10})};
\node[anchor=base east,rotate=90,font=\fs{14.5}] at (axis cs:608,2362) {C04};
\node[anchor=base east,rotate=90,font=\fs{14.5}] at (axis cs:649,2362) {(\textit{wt})};
\node[anchor=base,font=\fs{14.5}] at (axis cs:317,2481) {rods};
\node[anchor=base,font=\fs{14.5}] at (axis cs:566,2481) {cones};
\node[anchor=base west,font=\fs{12.3}\bfseries] at (axis cs:783,2010) {Spearman};
\node[anchor=base west,font=\fs{12.3}\bfseries] at (axis cs:783,2037) {correlation};
\node[anchor=base west,font=\fs{12.3}\bfseries] at (axis cs:783,2065) {score};
\end{axis}
\end{tikzpicture}
\end{document}
